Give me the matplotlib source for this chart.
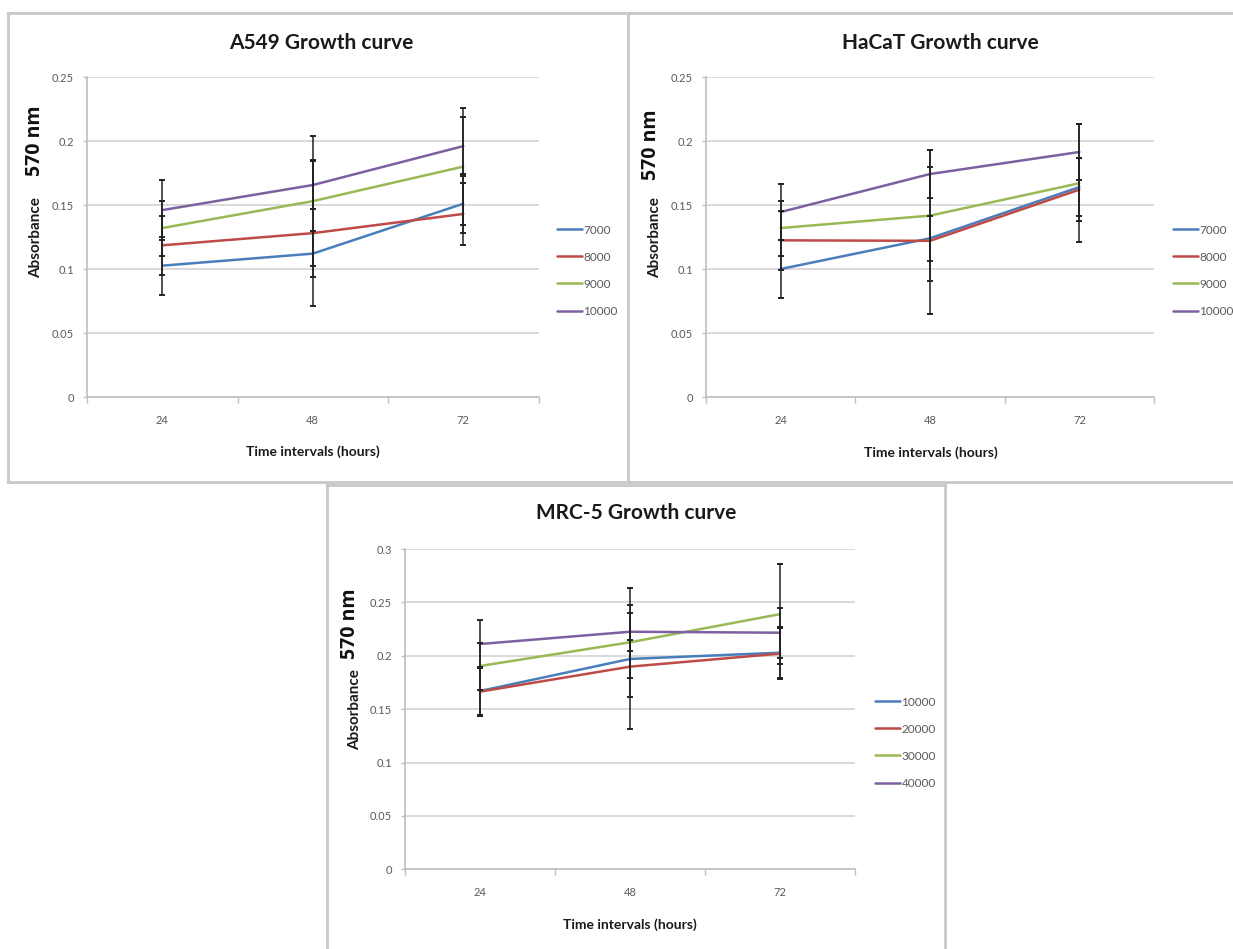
import matplotlib
matplotlib.use("Agg")
import matplotlib.pyplot as plt
from matplotlib.lines import Line2D

# ---- data -------------------------------------------------------------
hours = ["24", "48", "72"]

a549_labels = ["7000", "8000", "9000", "10000"]
a549_means = [
    [0.1026, 0.112, 0.151],
    [0.1185, 0.128, 0.143],
    [0.132, 0.153, 0.180],
    [0.146, 0.1656, 0.196],
]
a549_err = [
    [0.0226, 0.018, 0.023],
    [0.0228, 0.057, 0.024],
    [0.0215, 0.051, 0.046],
    [0.0235, 0.019, 0.023],
]

hacat_labels = ["7000", "8000", "9000", "10000"]
hacat_means = [
    [0.100, 0.124, 0.164],
    [0.1224, 0.122, 0.162],
    [0.132, 0.1417, 0.167],
    [0.1445, 0.1742, 0.1914],
]
hacat_err = [
    [0.0225, 0.0175, 0.0225],
    [0.023, 0.0575, 0.0245],
    [0.0215, 0.051, 0.046],
    [0.022, 0.0185, 0.022],
]

mrc5_labels = ["10000", "20000", "30000", "40000"]
mrc5_means = [
    [0.167, 0.197, 0.2029],
    [0.1664, 0.1898, 0.2020],
    [0.1904, 0.2126, 0.239],
    [0.211, 0.2225, 0.2216],
]
mrc5_err = [
    [0.0225, 0.018, 0.024],
    [0.0225, 0.058, 0.024],
    [0.022, 0.051, 0.047],
    [0.0225, 0.0178, 0.0233],
]

yticks_025 = [0, 0.05, 0.1, 0.15, 0.2, 0.25]
yticks_030 = [0, 0.05, 0.1, 0.15, 0.2, 0.25, 0.3]

# ---- styling ----------------------------------------------------------
W, H = 1233, 949
SERIES_COLORS = ["#4a7ebb", "#be4b48", "#98b954", "#7d60a0"]
GRID = "#d9d9d9"
AXIS = "#bfbfbf"
TICKTXT = "#595959"
BORDER = "#c8c8c8"
FONT = ["Lato", "DejaVu Sans"]

fig = plt.figure(figsize=(W / 100, H / 100), dpi=100)
fig.patch.set_facecolor("white")


def fx(x):
    return x / W


def fy(y):
    return 1 - y / H


def box(x0, y0, x1, y1):
    return [fx(x0), fy(y1), fx(x1) - fx(x0), fy(y0) - fy(y1)]


def fmt_tick(v):
    s = f"{v:.2f}".rstrip("0").rstrip(".")
    return s


def panel(rect, means, errs, labels, yticks, title, title_xy,
          ylab_x, nm_y, abs_y, xlab_xy, legend_xy):
    ax = fig.add_axes(box(*rect))
    x = list(range(len(hours)))
    for i, (m, e, lab) in enumerate(zip(means, errs, labels)):
        ax.plot(x, m, color=SERIES_COLORS[i], lw=1.8, label=lab,
                zorder=3, solid_capstyle="round")
    for i, (m, e) in enumerate(zip(means, errs)):
        ax.errorbar(x, m, yerr=e, fmt="none", ecolor="#222222",
                    elinewidth=1.1, capsize=2.0, capthick=1.4, zorder=4)

    ax.set_xlim(-0.5, len(hours) - 0.5)
    ax.set_ylim(yticks[0], yticks[-1])
    ax.set_yticks(yticks)
    ax.set_yticklabels([fmt_tick(v) for v in yticks])
    ax.set_xticks([-0.5, 0.5, 1.5, 2.5])
    ax.set_xticklabels([])
    ax.set_xticks(x, minor=True)
    ax.set_xticklabels(hours, minor=True)
    ax.tick_params(axis="x", which="major", length=4, width=1, color=AXIS,
                   direction="out")
    ax.tick_params(axis="x", which="minor", length=0, pad=13,
                   labelsize=8, labelcolor=TICKTXT)
    ax.tick_params(axis="y", length=3, width=1, color=AXIS, pad=6.5,
                   labelsize=8, labelcolor=TICKTXT)
    for lbl in ax.get_xticklabels(minor=True) + ax.get_yticklabels():
        lbl.set_family(FONT)

    ax.grid(axis="y", color=GRID, lw=1.4, zorder=0)
    ax.set_axisbelow(True)
    for s in ("top", "right"):
        ax.spines[s].set_visible(False)
    for s in ("left", "bottom"):
        ax.spines[s].set_color(AXIS)
        ax.spines[s].set_linewidth(1.2)

    fig.text(fx(title_xy[0]), fy(title_xy[1]), title, ha="center",
             va="center", fontsize=15, fontweight="bold", family=FONT,
             color="#1a1a1a")
    fig.text(fx(ylab_x[0]), fy(nm_y), "570 nm", rotation=90, ha="center",
             va="center", fontsize=14, fontweight="bold",
             family=["Open Sans", "DejaVu Sans"], color="#111111")
    fig.text(fx(ylab_x[1]), fy(abs_y), "Absorbance", rotation=90,
             ha="center", va="center", fontsize=11, fontweight="bold",
             family=FONT, color="#1a1a1a")
    fig.text(fx(xlab_xy[0]), fy(xlab_xy[1]), "Time intervals (hours)",
             ha="center", va="center", fontsize=10, fontweight="bold",
             family=FONT, color="#1a1a1a")

    ax.legend(loc="upper left",
              bbox_to_anchor=(fx(legend_xy[0]), fy(legend_xy[1])),
              bbox_transform=fig.transFigure, frameon=False,
              handlelength=2.1, handletextpad=0.15,
              labelspacing=1.36, borderpad=0, borderaxespad=0,
              labelcolor=TICKTXT, prop={"family": FONT, "size": 8.5})
    return ax


# A549
panel((87, 77, 538.5, 397), a549_means, a549_err, a549_labels, yticks_025,
      "A549 Growth curve", (321, 43), (34.5, 36), 141, 237.5, (313, 452),
      (557, 224.5))
# HaCaT
panel((706, 77, 1154, 397), hacat_means, hacat_err, hacat_labels, yticks_025,
      "HaCaT Growth curve", (940, 43), (651, 655.5), 145, 238, (931, 453),
      (1173, 224.5))
# MRC-5
panel((405, 549, 855, 869.3), mrc5_means, mrc5_err, mrc5_labels, yticks_030,
      "MRC-5 Growth curve", (636, 513), (350, 355), 623.5, 710, (630, 925),
      (875, 696.5))

# panel frames
def seg(x0, y0, x1, y1):
    fig.add_artist(Line2D([fx(x0), fx(x1)], [fy(y0), fy(y1)],
                          transform=fig.transFigure, color=BORDER, lw=2))


seg(8, 13, 1233, 13)
seg(8, 13, 8, 482)
seg(8, 482, 1233, 482)
seg(628, 13, 628, 482)
seg(327, 485, 945, 485)
seg(327, 485, 327, 949)
seg(945, 485, 945, 949)

fig.savefig("out.png", dpi=100, facecolor="white")
